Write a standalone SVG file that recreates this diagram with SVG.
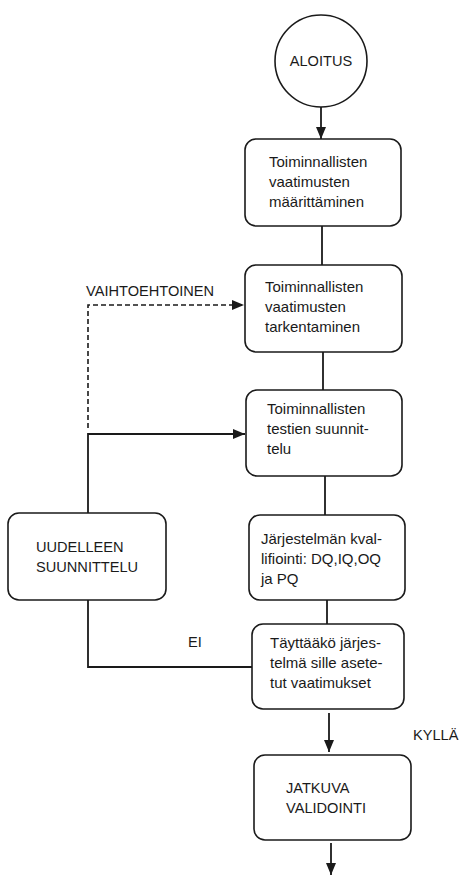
<svg xmlns="http://www.w3.org/2000/svg" width="466" height="877" viewBox="0 0 466 877">
<style>
.box{fill:#fff;stroke:#1a1a1a;stroke-width:1.6}
.ln{fill:none;stroke:#1a1a1a;stroke-width:1.8}
.dash{fill:none;stroke:#1a1a1a;stroke-width:1.6;stroke-dasharray:5 3}
text{font-family:"Liberation Sans",Arial,sans-serif;font-size:15px;fill:#1a1a1a}
.cap{font-size:14.6px}
</style>
<defs>
<marker id="ah" viewBox="0 0 12 10" refX="12" refY="5" markerWidth="12" markerHeight="10" markerUnits="userSpaceOnUse" orient="auto">
<path d="M0,0 L12,5 L0,10 Z" fill="#1a1a1a"/>
</marker>
</defs>
<rect width="466" height="877" fill="#fff"/>
<g id="connectors">
<line class="ln" x1="321" y1="107" x2="321" y2="139" marker-end="url(#ah)"/>
<line class="ln" x1="322" y1="226" x2="322" y2="265"/>
<line class="ln" x1="323" y1="352" x2="323" y2="390"/>
<line class="ln" x1="325" y1="476" x2="325" y2="515"/>
<line class="ln" x1="327" y1="600" x2="327" y2="624"/>
<line class="ln" x1="329" y1="713" x2="329" y2="752" marker-end="url(#ah)"/>
<line class="ln" x1="331" y1="843" x2="331" y2="875" marker-end="url(#ah)"/>
<path class="dash" d="M88,428 L88,305 L244,305" marker-end="url(#ah)"/>
<path class="ln" d="M88,513 L88,434 L245,434" marker-end="url(#ah)"/>
<path class="ln" d="M88,600 L88,667 L252,667"/>
<text x="86" y="296" class="cap">VAIHTOEHTOINEN</text>
<text x="188" y="647" class="cap">EI</text>
<text x="413" y="740" class="cap">KYLLÄ</text>
</g>
<g id="aloitus">
<circle cx="321" cy="61" r="46" fill="#fff" stroke="#1a1a1a" stroke-width="1.6"/>
<text x="321" y="66" text-anchor="middle" class="cap">ALOITUS</text>
</g>
<g id="box1">
<rect class="box" x="245" y="139" width="156" height="87" rx="11"/>
<text x="269" y="167">Toiminnallisten</text>
<text x="269" y="187">vaatimusten</text>
<text x="269" y="207">määrittäminen</text>
</g>
<g id="box2">
<rect class="box" x="245" y="265" width="157" height="87" rx="11"/>
<text x="265" y="292">Toiminnallisten</text>
<text x="265" y="312">vaatimusten</text>
<text x="265" y="332">tarkentaminen</text>
</g>
<g id="box3">
<rect class="box" x="246" y="390" width="156" height="86" rx="11"/>
<text x="267" y="414">Toiminnallisten</text>
<text x="267" y="434">testien suunnit-</text>
<text x="267" y="454">telu</text>
</g>
<g id="box4">
<rect class="box" x="249" y="515" width="156" height="85" rx="11"/>
<text x="261" y="544">Järjestelmän kval-</text>
<text x="261" y="564">lifiointi: DQ,IQ,OQ</text>
<text x="261" y="584">ja PQ</text>
</g>
<g id="uudelleen">
<rect class="box" x="8" y="513" width="158" height="87" rx="11"/>
<text x="36" y="552" class="cap">UUDELLEEN</text>
<text x="36" y="572" class="cap">SUUNNITTELU</text>
</g>
<g id="box5">
<rect class="box" x="252" y="624" width="152" height="85" rx="11"/>
<text x="270" y="648">Täyttääkö järjes-</text>
<text x="270" y="668">telmä sille asete-</text>
<text x="270" y="688">tut vaatimukset</text>
</g>
<g id="box6">
<rect class="box" x="254" y="755" width="157" height="85" rx="11"/>
<text x="286" y="793" class="cap">JATKUVA</text>
<text x="286" y="813" class="cap">VALIDOINTI</text>
</g>
</svg>
